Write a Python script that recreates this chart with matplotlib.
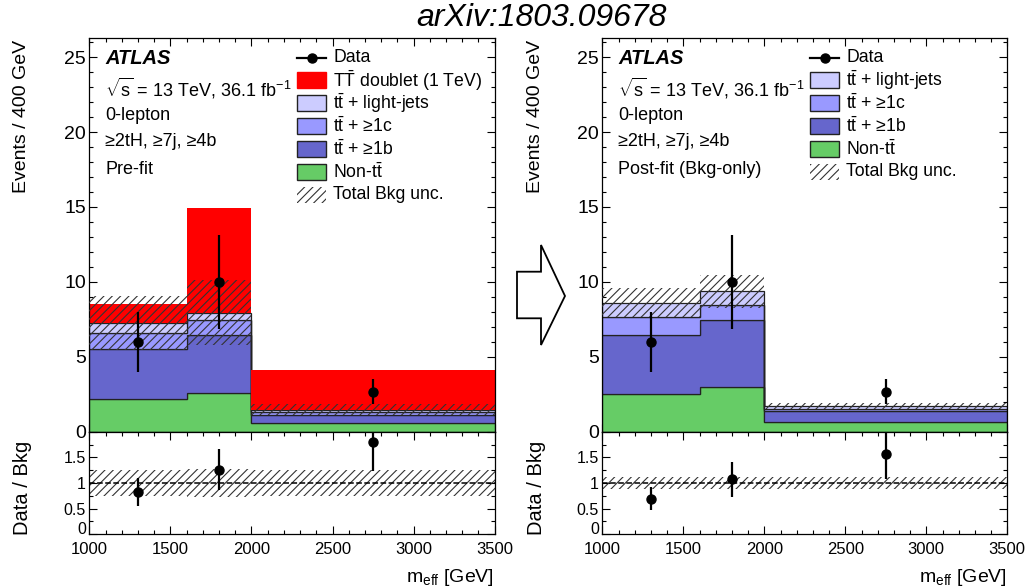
import matplotlib
matplotlib.use("Agg")
import matplotlib.pyplot as plt
import numpy as np
from matplotlib.patches import Rectangle, Polygon
from matplotlib.lines import Line2D
from matplotlib.ticker import MultipleLocator

plt.rcParams['font.family'] = ['Liberation Sans', 'DejaVu Sans']
plt.rcParams['mathtext.fontset'] = 'custom'
plt.rcParams['mathtext.rm'] = 'Liberation Sans'
plt.rcParams['mathtext.it'] = 'Liberation Sans:italic'
plt.rcParams['mathtext.bf'] = 'Liberation Sans:bold'
plt.rcParams['hatch.linewidth'] = 0.8

# ---- data (events / 400 GeV) ----
edges = [1000, 1600, 2000, 3500]
bin_centers = [1300, 1800, 2750]
data_vals = [6.0, 10.0, 2.67]
data_err = [2.0, 3.16, 0.84]

pre_non_tt = [2.16, 2.60, 0.56]
pre_tt_1b = [3.38, 3.84, 0.57]
pre_tt_1c = [1.06, 1.00, 0.21]
pre_tt_light = [0.63, 0.51, 0.14]
pre_signal = [1.29, 6.96, 2.64]
pre_bkg_unc = [1.80, 2.15, 0.37]

post_non_tt = [2.52, 3.00, 0.67]
post_tt_1b = [3.92, 4.43, 0.71]
post_tt_1c = [1.19, 1.03, 0.16]
post_tt_light = [0.98, 0.90, 0.17]
post_bkg_unc = [0.95, 1.10, 0.20]

main_yticks = [0, 5, 10, 15, 20, 25]
ratio_yticks = [0, 0.5, 1, 1.5, 2]
ratio_yticklabels = ['0', '0.5', '1', '1.5', '']
xticks = [1000, 1500, 2000, 2500, 3000, 3500]

C_NONTT = '#66cc66'
C_1B = '#6666cc'
C_1C = '#9999ff'
C_LIGHT = '#ccccff'
C_SIG = '#ff0000'
HATCH_C = '#333333'

TTBAR = r't$\bar{\mathrm{t}}$'

W, H = 1029, 587
fig = plt.figure(figsize=(W / 100, H / 100), dpi=100)


def fx(px):
    return px / W


def fy(py):
    return 1 - py / H


MAIN_TOP, MAIN_BOT, RATIO_BOT = 38.0, 431.7, 534.3


def style_axis(ax, fs_x, fs_y, xpad=4):
    ax.tick_params(which='both', direction='in', top=True, right=True,
                   width=0.8, colors='black')
    ax.tick_params(which='major', length=5.5)
    ax.tick_params(which='minor', length=2.8)
    ax.tick_params(axis='y', labelsize=fs_y, pad=2.5)
    ax.tick_params(axis='x', labelsize=fs_x, pad=xpad)
    ax.xaxis.set_minor_locator(MultipleLocator(100))
    for s in ax.spines.values():
        s.set_linewidth(0.9)


def draw_panel(x0, x1, components, colors, signal, unc, notes, legend_rows):
    ax = fig.add_axes([fx(x0), fy(MAIN_BOT), fx(x1 - x0), (MAIN_BOT - MAIN_TOP) / H])
    axr = fig.add_axes([fx(x0), fy(RATIO_BOT), fx(x1 - x0), (RATIO_BOT - MAIN_BOT) / H])

    bottom = np.zeros(len(edges) - 1)
    for vals, col in zip(components, colors):
        top = bottom + np.asarray(vals)
        ax.stairs(top, edges, baseline=bottom, fill=True, facecolor=col,
                  edgecolor='#222222', linewidth=0.9, zorder=2)
        bottom = top
    total = bottom.copy()
    if signal is not None:
        ax.stairs(total + np.asarray(signal), edges, baseline=total, fill=True,
                  facecolor=C_SIG, edgecolor=C_SIG, linewidth=0, zorder=2)
    unc = np.asarray(unc)
    ax.stairs(total + unc, edges, baseline=total - unc, fill=True,
              facecolor='none', edgecolor=HATCH_C, hatch='////', linewidth=0, zorder=3)
    ax.errorbar(bin_centers, data_vals, yerr=data_err, fmt='o', color='black',
                ms=6.5, elinewidth=1.6, capsize=0, zorder=5)

    ax.set_xlim(edges[0], edges[-1])
    ax.set_ylim(0, 26.28)
    ax.set_yticks(main_yticks)
    ax.yaxis.set_minor_locator(MultipleLocator(1))
    ax.set_xticks(xticks)
    style_axis(ax, 12, 14)
    ax.tick_params(axis='x', labelbottom=False)

    # ratio panel
    dv = np.asarray(data_vals)
    ratio = dv / total
    ratio_err = np.asarray(data_err) / total
    rel = unc / total
    axr.stairs(1 + rel, edges, baseline=1 - rel, fill=True, facecolor='none',
               edgecolor=HATCH_C, hatch='////', linewidth=0, zorder=2)
    axr.axhline(1, color='black', ls='--', lw=1.1, zorder=3)
    axr.errorbar(bin_centers, ratio, yerr=ratio_err, fmt='o', color='black',
                 ms=6.5, elinewidth=1.6, capsize=0, zorder=5)
    axr.set_xlim(edges[0], edges[-1])
    axr.set_ylim(0, 2)
    axr.set_yticks(ratio_yticks, labels=ratio_yticklabels)
    axr.yaxis.set_minor_locator(MultipleLocator(0.25))
    axr.set_xticks(xticks, labels=[str(t) for t in xticks])
    style_axis(axr, 12, 11.5, xpad=5.5)
    # rest the lowest ratio label on the axis so it clears the x labels
    axr.get_yticklabels()[0].set_va('baseline')

    # annotation block
    ys = [58, 88, 115, 142, 170]
    fig.text(fx(x0 + 16), fy(ys[0]), 'ATLAS', fontsize=14.5, fontweight='bold',
             fontstyle='italic', ha='left', va='center')
    for y, t in zip(ys[1:], notes):
        fig.text(fx(x0 + 16), fy(y), t, fontsize=13, ha='left', va='center')

    # legend
    lx = x0 + 208
    pitch = 22.9
    for i, (kind, col, label) in enumerate(legend_rows):
        yc = 57.5 + i * pitch
        if kind == 'data':
            fig.add_artist(Line2D([fx(lx), fx(lx + 29)], [fy(yc), fy(yc)],
                                  transform=fig.transFigure, color='black', lw=1.6))
            fig.add_artist(Line2D([fx(lx + 14.5)], [fy(yc)], transform=fig.transFigure,
                                  marker='o', ms=6.5, color='black'))
        elif kind == 'box':
            ec = col if col == C_SIG else '#222222'
            fig.add_artist(Rectangle((fx(lx), fy(yc + 8)), fx(29), 16 / H,
                                     transform=fig.transFigure, facecolor=col,
                                     edgecolor=ec, lw=1.0))
        else:
            fig.add_artist(Rectangle((fx(lx), fy(yc + 8)), fx(29), 16 / H,
                                     transform=fig.transFigure, facecolor='none',
                                     edgecolor=HATCH_C, hatch='////', lw=0))
        fig.text(fx(lx + 36), fy(yc), label, fontsize=12.7, ha='left', va='center')

    return ax, axr


notes_common = [r'$\sqrt{\mathrm{s}}$ = 13 TeV, 36.1 fb$^{\mathrm{-1}}$',
                '0-lepton', '≥2tH, ≥7j, ≥4b']

legend_pre = [
    ('data', 'black', 'Data'),
    ('box', C_SIG, r'$\mathrm{T}\bar{\mathrm{T}}$ doublet (1 TeV)'),
    ('box', C_LIGHT, TTBAR + ' + light-jets'),
    ('box', C_1C, TTBAR + ' + ≥1c'),
    ('box', C_1B, TTBAR + ' + ≥1b'),
    ('box', C_NONTT, 'Non-' + TTBAR),
    ('hatch', HATCH_C, 'Total Bkg unc.'),
]
legend_post = [r for r in legend_pre if r[1] != C_SIG]

draw_panel(89.3, 494.7,
           [pre_non_tt, pre_tt_1b, pre_tt_1c, pre_tt_light],
           [C_NONTT, C_1B, C_1C, C_LIGHT],
           pre_signal, pre_bkg_unc, notes_common + ['Pre-fit'], legend_pre)
draw_panel(602.3, 1007.3,
           [post_non_tt, post_tt_1b, post_tt_1c, post_tt_light],
           [C_NONTT, C_1B, C_1C, C_LIGHT],
           None, post_bkg_unc, notes_common + ['Post-fit (Bkg-only)'], legend_post)

# axis titles
for xc, xr in [(22, 493.5), (536, 1006.5)]:
    fig.text(fx(xc), fy(40), 'Events / 400 GeV', rotation=90, fontsize=14,
             ha='center', va='top')
    fig.text(fx(xc + 1), fy(488), 'Data / Bkg', rotation=90, fontsize=14.5,
             ha='center', va='center')
    fig.text(fx(xr), fy(577), r'm$_{\mathrm{eff}}$ [GeV]', fontsize=14,
             ha='right', va='center')

# block arrow between the panels
arrow_px = [(517, 271.7), (541, 271.7), (541, 245), (565, 296),
            (541, 345), (541, 318.3), (517, 318.3)]
fig.add_artist(Polygon([(fx(x), fy(y)) for x, y in arrow_px], closed=True,
                       transform=fig.transFigure, fill=False,
                       edgecolor='black', lw=1.3))

fig.text(fx(541), fy(18), 'arXiv:1803.09678', fontsize=23, fontstyle='italic',
         ha='center', va='center')

fig.savefig('out.png', dpi=100)
